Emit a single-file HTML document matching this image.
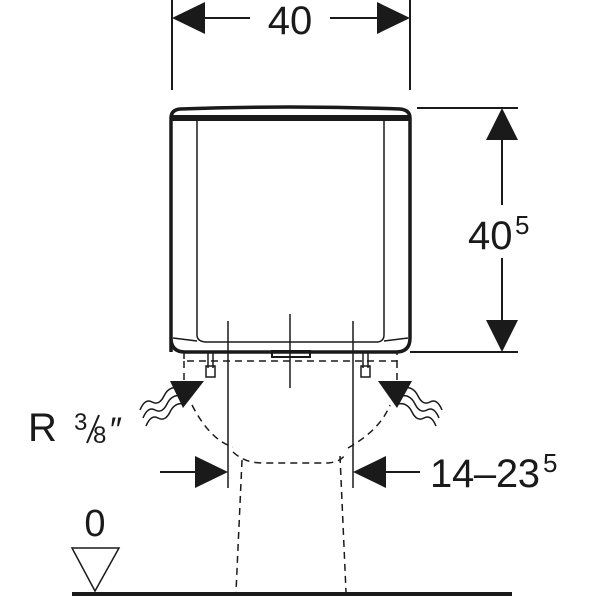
<!DOCTYPE html>
<html><head><style>html,body{margin:0;padding:0;background:#fff}</style></head><body>
<svg width="600" height="600" viewBox="0 0 600 600" xmlns="http://www.w3.org/2000/svg" style="display:block">
<g stroke="#1a1a1a" fill="none" stroke-linecap="butt">
<line x1="172" y1="0" x2="172" y2="90" stroke-width="2"/>
<line x1="410" y1="0" x2="410" y2="90" stroke-width="2"/>
<line x1="200" y1="18" x2="250" y2="18" stroke-width="2"/>
<line x1="330" y1="18" x2="382" y2="18" stroke-width="2"/>
<path d="M171,352 L171,118 Q171,110 180,109 Q290,105 400,109 Q410,110 410,118 L410,338 Q410,352 396,352 L185,352 Q171,352 171,338" stroke-width="3.5"/>
<line x1="172" y1="118" x2="409" y2="118" stroke-width="6"/>
<path d="M197,120 L197,335 Q197,341 205,342 L378,342 Q384,341 384,335 L384,120" stroke-width="1.5"/>
<line x1="173" y1="338" x2="197" y2="341" stroke-width="1.5"/>
<line x1="408" y1="338" x2="384" y2="341" stroke-width="1.5"/>
<rect x="272" y="351" width="38" height="6" stroke-width="2"/>
<line x1="290" y1="314" x2="290" y2="388" stroke-width="1.5"/>
<line x1="228" y1="321" x2="228" y2="488" stroke-width="1.5"/>
<line x1="353" y1="321" x2="353" y2="488" stroke-width="1.5"/>
<g stroke-dasharray="7,5" stroke-width="1.5">
<path d="M184,352 L184,361 L397,361 L397,352"/>
<line x1="184" y1="361" x2="184" y2="380"/>
<line x1="397" y1="361" x2="397" y2="380"/>
<path d="M192,405 Q210,440 233,447"/>
<path d="M233,452 Q245,463 262,463 L328,463 Q340,462 345,455"/>
<path d="M348,448 Q380,430 390,405"/>
<path d="M242,460 L236,592"/>
<path d="M340,456 L346,592"/>
</g>
<g stroke-width="1.5">
<line x1="208" y1="352" x2="208" y2="368"/><line x1="213" y1="352" x2="213" y2="368"/>
<rect x="206" y="366" width="9" height="11"/>
<line x1="363" y1="352" x2="363" y2="368"/><line x1="368" y1="352" x2="368" y2="368"/>
<rect x="361" y="366" width="9" height="11"/>
</g>
<g stroke-width="1.5">
<path d="M140,410 q5,-12 12,-8 q7,4 12,-6 q5,-10 14,-8"/>
<path d="M143,418 q5,-12 12,-8 q7,4 12,-6 q5,-10 14,-8"/>
<path d="M146,426 q5,-12 12,-8 q7,4 12,-6 q5,-10 14,-8"/>
<path d="M442,410 q-5,-12 -12,-8 q-7,4 -12,-6 q-5,-10 -14,-8"/>
<path d="M439,418 q-5,-12 -12,-8 q-7,4 -12,-6 q-5,-10 -14,-8"/>
<path d="M436,426 q-5,-12 -12,-8 q-7,4 -12,-6 q-5,-10 -14,-8"/>
</g>
<line x1="160" y1="472" x2="200" y2="472" stroke-width="2"/>
<line x1="380" y1="472" x2="420" y2="472" stroke-width="2"/>
<line x1="417" y1="108" x2="518" y2="108" stroke-width="2"/>
<line x1="410" y1="352" x2="518" y2="352" stroke-width="2"/>
<line x1="502" y1="135" x2="502" y2="205" stroke-width="2"/>
<line x1="502" y1="258" x2="502" y2="325" stroke-width="2"/>
<line x1="72" y1="594" x2="512" y2="594" stroke-width="4"/>
<path d="M72,548 L119,548 L95,591 Z" stroke-width="1.5"/>
<line x1="87" y1="443" x2="99" y2="415" stroke-width="2"/>
</g>
<g fill="#1a1a1a">
<polygon points="172,18 205,2 205,34"/>
<polygon points="410,18 377,2 377,34"/>
<polygon points="502,108 486,140 518,140"/>
<polygon points="502,352 486,320 518,320"/>
<polygon points="228,472 195,456 195,488"/>
<polygon points="353,472 386,456 386,488"/>
<polygon points="170,381 204,381 183,408"/>
<polygon points="378,381 412,381 397,408"/>
</g>
<g font-family="Liberation Sans, sans-serif" fill="#1a1a1a">
<text x="290" y="34" font-size="40" text-anchor="middle">40</text>
<text x="468" y="249" font-size="40">40</text><text x="515" y="234" font-size="26">5</text>
<text x="430" y="487" font-size="40" textLength="110">14–23</text><text x="543" y="472" font-size="26">5</text>
<text x="28" y="441" font-size="40">R</text>
<text x="74" y="430" font-size="24">3</text>
<text x="93" y="443" font-size="24">8</text>
<text x="110" y="441" font-size="34">″</text>
<text x="95" y="536" font-size="38" text-anchor="middle">0</text>
</g>
</svg>
</body></html>
